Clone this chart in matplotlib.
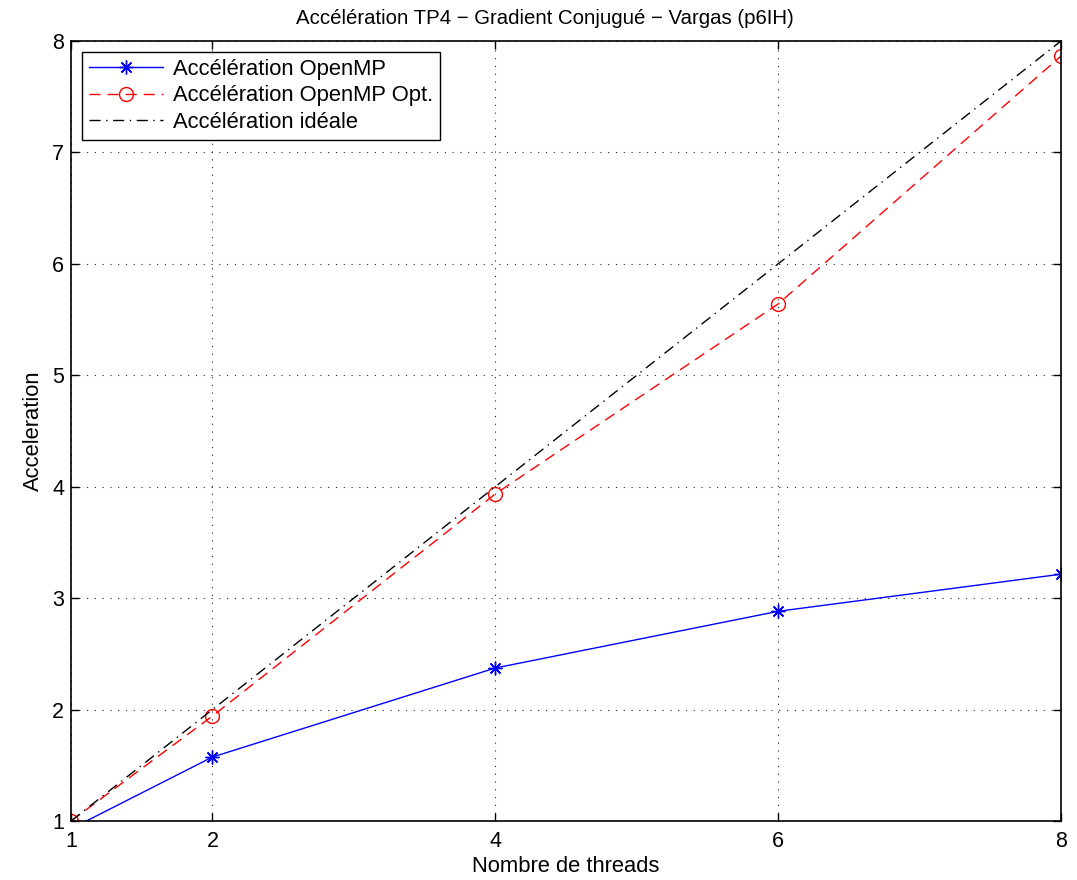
import matplotlib
matplotlib.use("Agg")
import matplotlib.pyplot as plt

plt.rcParams['font.family'] = ['Liberation Sans', 'DejaVu Sans']

threads = [1, 2, 4, 6, 8]
speedup_omp = [0.93, 1.574, 2.373, 2.882, 3.215]
speedup_omp_opt = [1.0, 1.942, 3.935, 5.64, 7.865]
speedup_ideal = [1, 2, 4, 6, 8]
xticks = [1, 2, 4, 6, 8]
yticks = [1, 2, 3, 4, 5, 6, 7, 8]

fig = plt.figure(figsize=(10.77, 8.8), dpi=100)
ax = fig.add_axes([71 / 1077, 59 / 880, 990 / 1077, 780 / 880])

ax.plot(threads, speedup_omp, color='blue', linestyle='-', linewidth=1.0,
        marker=(8, 2, 0), markersize=10, markerfacecolor='none',
        markeredgecolor='blue', markeredgewidth=1.0,
        label='Accélération OpenMP')
ax.plot(threads, speedup_omp_opt, color='red', linestyle=(0, (8, 5)),
        linewidth=1.0, marker='o', markersize=10, markerfacecolor='none',
        markeredgecolor='red', markeredgewidth=1.0,
        label='Accélération OpenMP Opt.')
ax.plot(threads, speedup_ideal, color='black', linestyle=(0, (8, 4, 1, 4)),
        linewidth=1.0, label='Accélération idéale')

ax.set_xlim(1, 8)
ax.set_ylim(1, 8)
ax.set_xticks(xticks)
ax.set_yticks(yticks)
ax.tick_params(direction='in', length=6, width=1, top=True, right=True,
               labelsize=15.5)
ax.tick_params(axis='x', pad=7)
ax.tick_params(axis='y', pad=5)
for s in ax.spines.values():
    s.set_linewidth(1.2)
ax.grid(True, color='#222222', linestyle=(0, (1, 6)), linewidth=0.8)

ax.set_title('Accélération TP4 − Gradient Conjugué − Vargas (p6IH)',
             fontsize=14.7, pad=12)
ax.title.set_x(0.479)
ax.set_xlabel('Nombre de threads', fontsize=15.8, labelpad=3)
ax.set_ylabel('Acceleration', fontsize=15.8, labelpad=6)

leg = ax.legend(loc='upper left', fontsize=15.8, frameon=True, fancybox=False,
                edgecolor='black', framealpha=1, borderaxespad=0.5,
                handlelength=3.4, handletextpad=0.45, labelspacing=0.26,
                borderpad=0.3)
leg.get_frame().set_linewidth(1.0)

fig.savefig('out.png', dpi=100)
